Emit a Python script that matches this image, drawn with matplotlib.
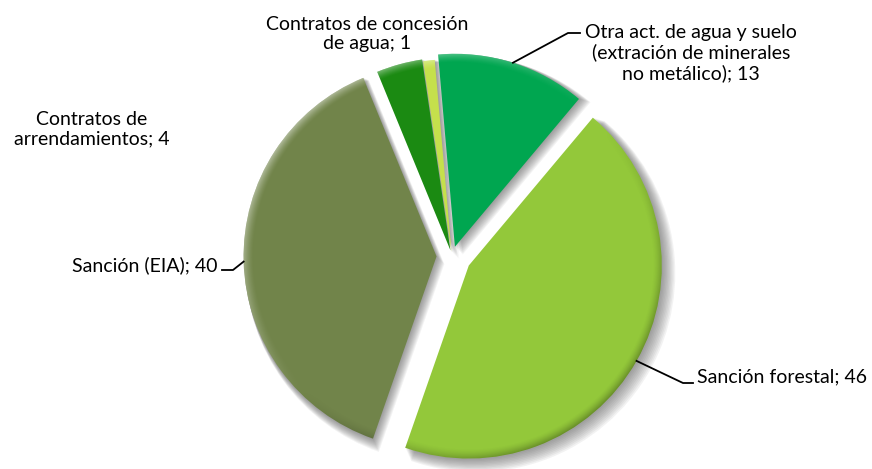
import matplotlib.pyplot as plt
from matplotlib.patches import Wedge
import numpy as np

plt.rcParams['font.family'] = ['Lato', 'DejaVu Sans']

# data (order: clockwise from the top)
labels = ['Otra act. de agua y suelo\n(extración de minerales\nno metálico)',
          'Sanción forestal', 'Sanción (EIA)',
          'Contratos de\narrendamientos', 'Contratos de concesión\nde agua']
values = [13, 46, 40, 4, 1]
colors = ['#00A650', '#93C83A', '#71844A', '#1B8A12', '#C5E04C']
explode = [0.05, 0.10, 0.08, 0.03, 0.02]

# pixel geometry of the reference (pie centre and radius)
cx, cy, R = 452, 256, 193
W, H = 872, 469


def px(x, y):
    return (x - cx) / R, (cy - y) / R


fig = plt.figure(figsize=(W / 100, H / 100), dpi=100)
ax = fig.add_axes([0, 0, 1, 1])

wedges, _ = ax.pie(values, colors=colors, explode=explode, startangle=95,
                   counterclock=False, radius=1.0, wedgeprops=dict(linewidth=0))

# pie() resets the limits, so set them afterwards
x0, x1 = -cx / R, (W - cx) / R
y0, y1 = -(H - cy) / R, cy / R
ax.set_xlim(x0, x1)
ax.set_ylim(y0, y1)
ax.set_aspect('equal')
ax.axis('off')

gx, gy = np.meshgrid(np.linspace(x0, x1, W), np.linspace(y1, y0, H))

# soft drop shadow under each wedge + bevel on the rim
for w in wedges:
    for k in range(10, 0, -1):
        off = 0.004 * k
        sh = Wedge((w.center[0] + off, w.center[1] - off), w.r + 0.003 * k,
                   w.theta1, w.theta2, facecolor='#505050', alpha=0.07,
                   linewidth=0, zorder=0)
        ax.add_patch(sh)
    # rim shading: light towards upper left, dark towards lower right
    dx, dy = gx - w.center[0], gy - w.center[1]
    rr = np.hypot(dx, dy)
    ang = np.arctan2(dy, dx)
    edge = np.clip((rr - (w.r - 0.05)) / 0.05, 0, 1) ** 1.5
    f = np.cos(ang - np.radians(135))
    img = np.zeros((H, W, 4))
    img[..., :3] = np.where(f[..., None] > 0, 1.0, 0.0)
    img[..., 3] = edge * np.where(f > 0, 0.45 * f, 0.3 * -f)
    im = ax.imshow(img, extent=(x0, x1, y0, y1), zorder=3, interpolation='bilinear')
    im.set_clip_path(w)


def rim_point(w):
    mid = np.radians((w.theta1 + w.theta2) / 2)
    return w.center[0] + w.r * np.cos(mid), w.center[1] + w.r * np.sin(mid)


fs = 14
# Otra act.
p0 = rim_point(wedges[0])
e1, e2 = px(568, 33), px(580, 33)
ax.plot([p0[0], e1[0], e2[0]], [p0[1], e1[1], e2[1]], color='black', lw=1.3, zorder=4)
tx, ty = px(691, 53)
ax.text(tx, ty, f'{labels[0]}; {values[0]}', ha='center', va='center', fontsize=fs,
        linespacing=1.2)

# Sanción forestal
p1 = rim_point(wedges[1])
e1, e2 = px(683, 383), px(693, 383)
ax.plot([p1[0], e1[0], e2[0]], [p1[1], e1[1], e2[1]], color='black', lw=1.3, zorder=4)
tx, ty = px(697, 377)
ax.text(tx, ty, f'{labels[1]}; {values[1]}', ha='left', va='center', fontsize=fs)

# Sanción (EIA)
p2 = rim_point(wedges[2])
e1, e2 = px(233, 270), px(222, 270)
ax.plot([p2[0], e1[0], e2[0]], [p2[1], e1[1], e2[1]], color='black', lw=1.3, zorder=4)
tx, ty = px(217, 265)
ax.text(tx, ty, f'{labels[2]}; {values[2]}', ha='right', va='center', fontsize=fs)

# Contratos de arrendamientos (no leader line)
tx, ty = px(92, 129)
ax.text(tx, ty, f'{labels[3]}; {values[3]}', ha='center', va='center', fontsize=fs,
        linespacing=1.2)

# Contratos de concesión de agua (no leader line)
tx, ty = px(367, 34)
ax.text(tx, ty, f'{labels[4]}; {values[4]}', ha='center', va='center', fontsize=fs,
        linespacing=1.2)

plt.savefig('out.png', dpi=100, facecolor='w')
